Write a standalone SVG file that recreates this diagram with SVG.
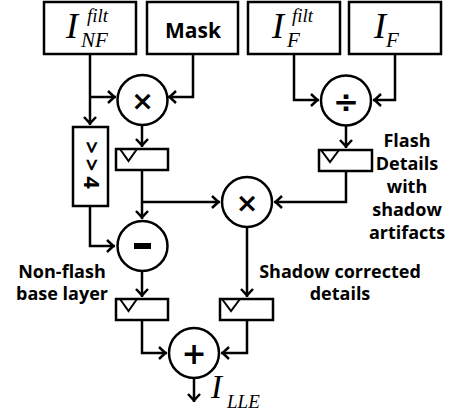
<svg xmlns="http://www.w3.org/2000/svg" width="451" height="414" viewBox="0 0 451 414">
<style>
.box{fill:#fff;stroke:#000;stroke-width:2.5}
.reg{fill:#fff;stroke:#000;stroke-width:2.5}
.clk{fill:none;stroke:#000;stroke-width:2;stroke-linejoin:miter}
.op{fill:#fff;stroke:#000;stroke-width:2.5}
.w{fill:none;stroke:#000;stroke-width:2.5;marker-end:url(#ah)}
.m{font-family:"Liberation Serif","Times New Roman",serif;font-style:italic;fill:#000}
.lbl{font-family:"Open Sans","DejaVu Sans",sans-serif;font-weight:700;font-size:18px;fill:#000;text-anchor:middle}
.sym{font-family:"DejaVu Sans",sans-serif;font-weight:700;fill:#000;text-anchor:middle;dominant-baseline:central}
</style>
<defs>
<marker id="ah" markerUnits="userSpaceOnUse" markerWidth="20" markerHeight="20" viewBox="-12 -10 14 20" refX="0" refY="0" orient="auto" overflow="visible">
<path d="M-8,-6 L-1.6,0 L-8,6" fill="none" stroke="#000" stroke-width="2.5" stroke-linejoin="miter"/>
</marker>
</defs>

<g id="connectors">
<path class="w" d="M90,54 V125"/>
<path class="w" d="M90,97 H116"/>
<path class="w" d="M193,54 V97 H168"/>
<path class="w" d="M142,125 V147"/>
<path class="w" d="M142,170 V219"/>
<path class="w" d="M142,202 H220"/>
<path class="w" d="M90,206 V246 H115"/>
<path class="w" d="M142,271 V297"/>
<path class="w" d="M142,321 V353 H167"/>
<path class="w" d="M294,54 V100 H319"/>
<path class="w" d="M395,54 V100 H373"/>
<path class="w" d="M346,125 V148"/>
<path class="w" d="M346,171 V202 H274"/>
<path class="w" d="M247,227 V297"/>
<path class="w" d="M247,320 V353 H221"/>
<path class="w" d="M194,378 V402"/>
</g>

<g id="I_NF_filt">
<rect class="box" x="44" y="2" width="92" height="52"/>
<text class="m" x="66" y="38" font-size="36">I</text>
<text class="m" x="87" y="22" font-size="19">filt</text>
<text class="m" x="81" y="47" font-size="21">NF</text>
</g>
<g id="Mask">
<rect class="box" x="147" y="2" width="91" height="52"/>
<text x="193" y="37.5" font-family="Open Sans,DejaVu Sans,sans-serif" font-weight="700" font-size="21" text-anchor="middle">Mask</text>
</g>
<g id="I_F_filt">
<rect class="box" x="248" y="2" width="92" height="52"/>
<text class="m" x="272" y="38" font-size="36">I</text>
<text class="m" x="292" y="22" font-size="19">filt</text>
<text class="m" x="287" y="47" font-size="21">F</text>
</g>
<g id="I_F">
<rect class="box" x="349" y="2" width="92" height="52"/>
<text class="m" x="374" y="38" font-size="36">I</text>
<text class="m" x="386" y="47" font-size="21">F</text>
</g>

<g id="mul1">
<circle class="op" cx="142.5" cy="100" r="25"/>
<text class="sym" x="142.5" y="100" font-size="27">×</text>
</g>
<g id="div">
<circle class="op" cx="346" cy="100.5" r="25"/>
<text class="sym" x="346" y="100.5" font-size="31">÷</text>
</g>
<g id="shift">
<rect class="box" x="73" y="127" width="35" height="79"/>
<text transform="translate(84,167.5) rotate(90)" x="0" y="0" font-family="Open Sans,DejaVu Sans,sans-serif" font-weight="700" font-size="22" letter-spacing="5" text-anchor="middle">&gt;&gt;4</text>
</g>
<g id="reg1">
<rect class="reg" x="116" y="149" width="52" height="21"/>
<path class="clk" d="M120,149 L128.5,161 L137,149"/>
</g>
<g id="reg3">
<rect class="reg" x="319" y="150" width="53" height="21"/>
<path class="clk" d="M321,150 L330,162 L339,150"/>
</g>
<g id="mul2">
<circle class="op" cx="247" cy="202" r="25"/>
<text class="sym" x="247" y="202" font-size="27">×</text>
</g>
<g id="sub">
<circle class="op" cx="142.5" cy="246" r="25"/>
<rect x="134" y="243" width="17" height="6" fill="#000"/>
</g>
<g id="reg2">
<rect class="reg" x="116" y="299" width="52" height="21"/>
<path class="clk" d="M120,299 L128.5,311 L137,299"/>
</g>
<g id="reg4">
<rect class="reg" x="220" y="299" width="53" height="21"/>
<path class="clk" d="M222,299 L231,311 L240,299"/>
</g>
<g id="add">
<circle class="op" cx="194" cy="353" r="25"/>
<text class="sym" x="194" y="353" font-size="30">+</text>
</g>
<g id="out">
<text class="m" x="211" y="398" font-size="33">I</text>
<text class="m" x="227" y="408" font-size="19">LLE</text>
</g>

<g id="labels">
<text class="lbl" x="407" y="147">Flash</text>
<text class="lbl" x="407" y="170">Details</text>
<text class="lbl" x="407" y="193">with</text>
<text class="lbl" x="407" y="216">shadow</text>
<text class="lbl" x="407" y="239">artifacts</text>
<text class="lbl" x="340" y="278">Shadow corrected</text>
<text class="lbl" x="340" y="300">details</text>
<text class="lbl" x="62" y="278">Non-flash</text>
<text class="lbl" x="62" y="300">base layer</text>
</g>
</svg>
